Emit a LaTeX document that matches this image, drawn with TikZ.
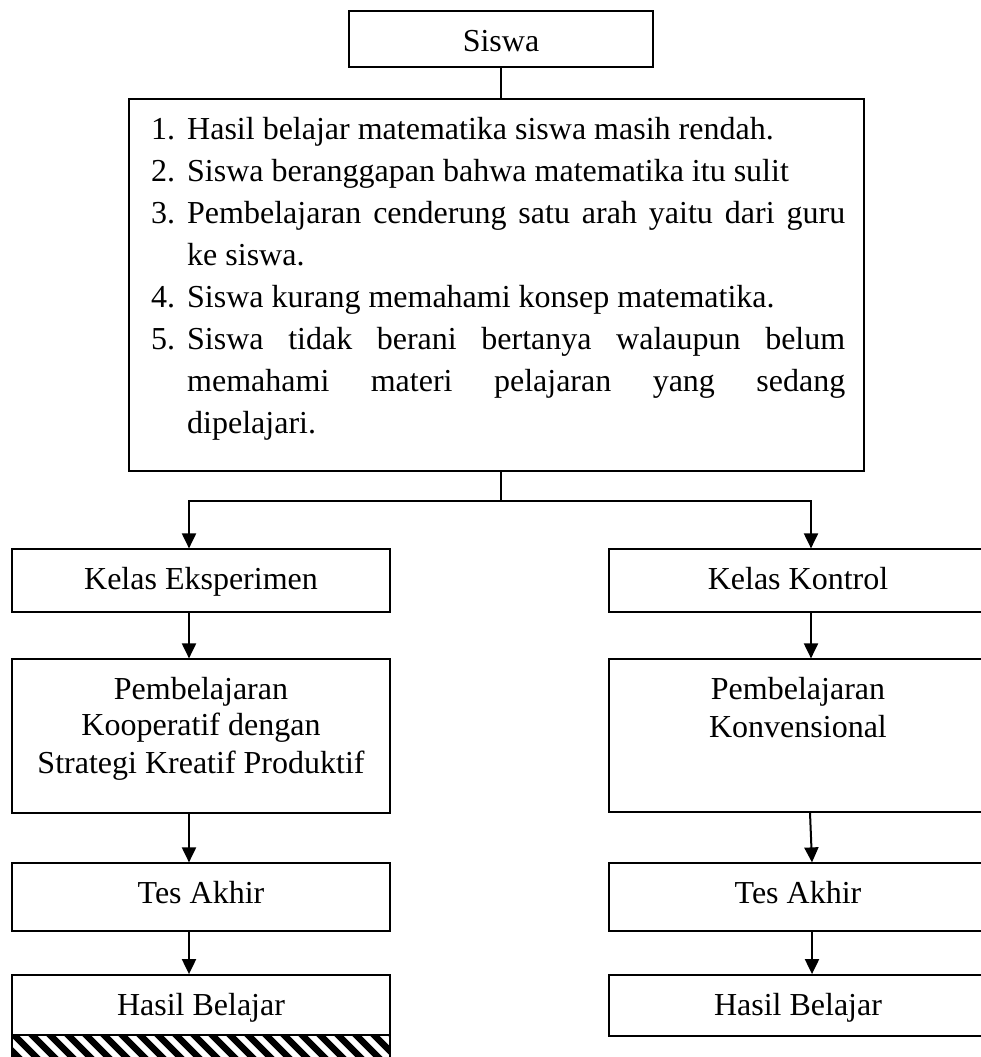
\documentclass[tikz,border=0pt]{standalone}
\usepackage{fontspec}
\setmainfont{Liberation Serif}
\usetikzlibrary{arrows.meta}
\begin{document}
\begin{tikzpicture}[x=1pt,y=-1pt,
  every node/.style={font=\fontsize{32}{38}\selectfont},
  box/.style={draw=black, line width=1.2pt, rectangle, inner sep=0pt},
  thickbox/.style={box, line width=1.8pt},
  bl/.style={text height=2*#1, text depth=0pt},
  arr/.style={line width=2pt, -{Triangle[length=15pt,width=14pt]}},
  link/.style={line width=1.2pt},
  txt/.style={inner sep=0pt, anchor=base},
  lst/.style={inner sep=0pt, anchor=base west}]
\useasboundingbox (0,0) rectangle (981,1057);
\clip (0,0) rectangle (981,1057);

% top
\node[box, bl=13pt, minimum width=304, minimum height=56] (siswa) at (501,39) {Siswa};
\node[thickbox, minimum width=735, minimum height=372] (masalah) at (496.5,285) {};

% list
\node[lst] (n1) at (151,139) {1.};
\node[lst] (l1) at (187,139) {Hasil belajar matematika siswa masih rendah.};
\node[lst] (n2) at (151,181) {2.};
\node[lst] (l2) at (187,181) {Siswa beranggapan bahwa matematika itu sulit};
\node[lst] (n3) at (151,223) {3.};
\node[lst] (l3) at (187,223) {\makebox[658pt][s]{Pembelajaran cenderung satu arah yaitu dari guru}};
\node[lst] (l3b) at (187,265) {ke siswa.};
\node[lst] (n4) at (151,307) {4.};
\node[lst] (l4) at (187,307) {Siswa kurang memahami konsep matematika.};
\node[lst] (n5) at (151,349) {5.};
\node[lst] (l5) at (187,349) {\makebox[658pt][s]{Siswa tidak berani bertanya walaupun belum}};
\node[lst] (l5b) at (187,391) {\makebox[658pt][s]{memahami materi pelajaran yang sedang}};
\node[lst] (l5c) at (187,433) {dipelajari.};

% left column
\node[box, bl=8.5pt, minimum width=378, minimum height=63] (ke) at (201,580.5) {Kelas Eksperimen};
\node[box, minimum width=378, minimum height=154] (pe) at (201,736) {};
\node[txt] (pe1) at (201,699) {Pembelajaran};
\node[txt] (pe2) at (201,735) {Kooperatif dengan};
\node[txt] (pe3) at (201,773) {Strategi Kreatif Produktif};
\node[box, bl=6pt, minimum width=378, minimum height=68] (te) at (201,897) {Tes Akhir};
\node[thickbox, bl=10pt, minimum width=378, minimum height=60] (he) at (201,1005) {Hasil Belajar};
\node[box, minimum width=378, minimum height=30] (hatch) at (201,1050) {};
\begin{scope}
  \clip (hatch.north west) rectangle (hatch.south east);
  \foreach \i in {-3,...,24}
    \draw[line width=6.4pt] (12+\i*18,1033) -- ++(30,30);
\end{scope}
\draw[line width=1.8pt] (hatch.north west) -- (hatch.north east);
\draw[line width=1.2pt] (hatch.north west) -- (hatch.south west);
\draw[line width=1.2pt] (hatch.north east) -- (hatch.south east);

% right column
\node[box, bl=8.5pt, minimum width=378, minimum height=63] (kk) at (798,580.5) {Kelas Kontrol};
\node[box, minimum width=378, minimum height=153] (pk) at (798,735.5) {};
\node[txt] (pk1) at (798,699) {Pembelajaran};
\node[txt] (pk2) at (798,737) {Konvensional};
\node[box, bl=6pt, minimum width=378, minimum height=68] (tk) at (798,897) {Tes Akhir};
\node[thickbox, bl=9.5pt, minimum width=378, minimum height=61] (hk) at (798,1005.5) {Hasil Belajar};

% connectors
\coordinate (split) at (501,501);
\draw[link] (siswa.south) -- (siswa.south |- masalah.north);
\draw[link] (masalah.south -| split) -- (split);
\draw[arr] (split) -| ([xshift=-12pt]ke.north);
\draw[arr] (split) -| ([xshift=13pt]kk.north);
\draw[arr] ([xshift=-12pt]ke.south) -- ([xshift=-12pt]pe.north);
\draw[arr] ([xshift=-12pt]pe.south) -- ([xshift=-12pt]te.north);
\draw[arr] ([xshift=-12pt]te.south) -- ([xshift=-12pt]he.north);
\draw[arr] ([xshift=13pt]kk.south) -- ([xshift=13pt]pk.north);
\draw[arr] ([xshift=12pt]pk.south) -- ([xshift=14pt]tk.north);
\draw[arr] ([xshift=14pt]tk.south) -- ([xshift=14pt]hk.north);
\end{tikzpicture}
\end{document}
